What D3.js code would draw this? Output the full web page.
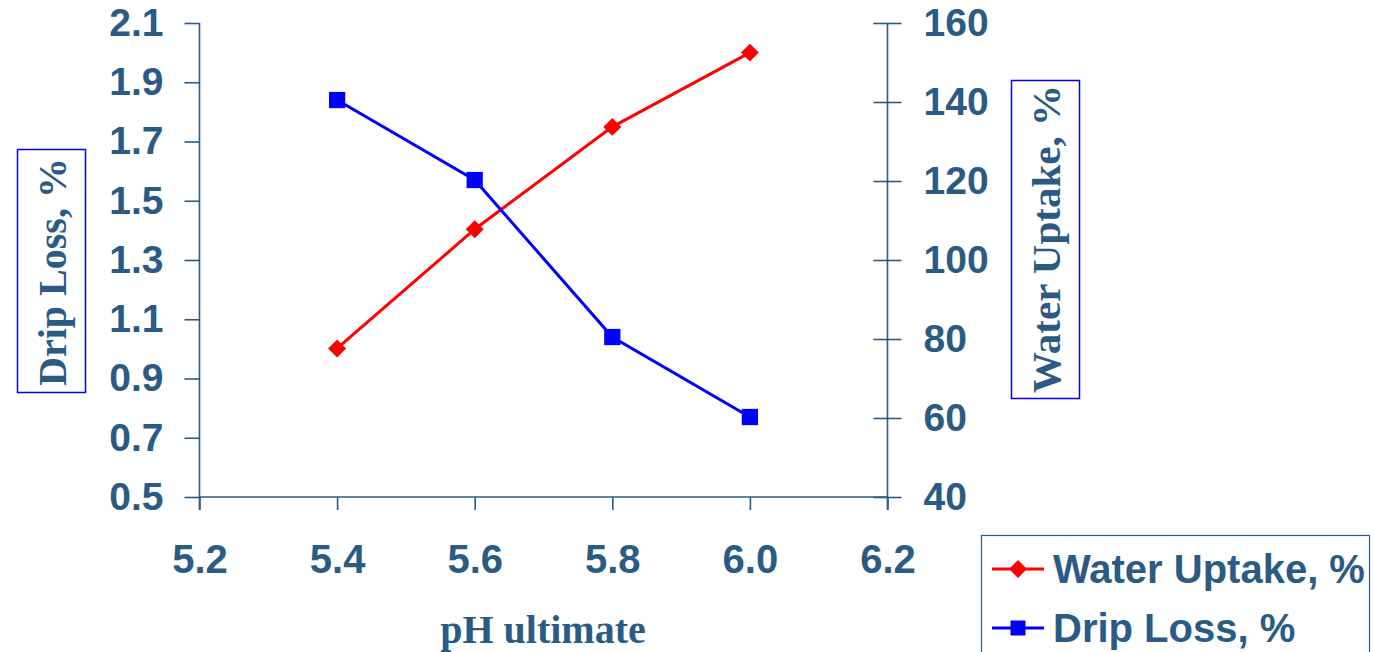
<!DOCTYPE html>
<html>
<head>
<meta charset="utf-8">
<script src="https://cdn.jsdelivr.net/npm/d3@7"></script>
<style>
  html, body { margin: 0; padding: 0; background: #ffffff; }
  svg { display: block; }
</style>
</head>
<body>
<svg id="chart" width="1374" height="652"></svg>
<script>
// ---- data ----
const phValues = [5.4, 5.6, 5.8, 6.0];
const waterUptake = [77.6, 107.8, 133.7, 152.5];   // right axis, %
const dripLoss = [1.84, 1.57, 1.04, 0.77];          // left axis, %
const xTicks = [5.2, 5.4, 5.6, 5.8, 6.0, 6.2];
const leftTicks = [0.5, 0.7, 0.9, 1.1, 1.3, 1.5, 1.7, 1.9, 2.1];
const rightTicks = [40, 60, 80, 100, 120, 140, 160];
const seriesNames = ["Water Uptake, %", "Drip Loss, %"];
const xTitle = "pH ultimate";
const leftTitle = "Drip Loss,  %";
const rightTitle = "Water Uptake, %";

// ---- styling ----
const axisColor = "#2b5b84";
const red = "#ff0000";
const blue = "#0000ff";
const sansFont = "'Liberation Sans', Arial, sans-serif";
const serifFont = "'Liberation Serif', 'Times New Roman', serif";

const svg = d3.select("#chart");

const x = d3.scaleLinear().domain([5.2, 6.2]).range([199.5, 887.5]);
const yL = d3.scaleLinear().domain([0.5, 2.1]).range([497, 23]);
const yR = d3.scaleLinear().domain([40, 160]).range([497, 23]);

// ---- axes ----
const gLeft = svg.append("g").attr("transform", `translate(${x(5.2)},0)`)
  .call(d3.axisLeft(yL).tickValues(leftTicks).tickFormat(d3.format(".1f"))
    .tickSize(15).tickSizeOuter(0).tickPadding(21));
const gRight = svg.append("g").attr("transform", `translate(${x(6.2)},0)`)
  .call(d3.axisRight(yR).tickValues(rightTicks).tickFormat(d3.format("d"))
    .tickSize(14).tickSizeOuter(0).tickPadding(22));
gRight.selectAll(".tick line").attr("x1", -14);
const gBottom = svg.append("g").attr("transform", `translate(0,${yL(0.5)})`)
  .call(d3.axisBottom(x).tickValues(xTicks).tickFormat(d3.format(".1f"))
    .tickSize(13).tickSizeOuter(0).tickPadding(35));

[gLeft, gRight, gBottom].forEach(g => {
  g.select(".domain").remove();
  g.selectAll(".tick line").attr("stroke", axisColor).attr("stroke-width", 1.6);
  g.selectAll(".tick text").attr("fill", axisColor)
    .attr("font-family", sansFont).attr("font-weight", "bold").attr("font-size", 39);
});
gBottom.selectAll(".tick text").attr("font-size", 40);

// axis lines
svg.append("line").attr("x1", x(5.2)).attr("x2", x(5.2)).attr("y1", yL(2.1)).attr("y2", yL(0.5) + 13)
  .attr("stroke", axisColor).attr("stroke-width", 1.6);
svg.append("line").attr("x1", x(6.2)).attr("x2", x(6.2)).attr("y1", yR(160)).attr("y2", yR(40) + 13)
  .attr("stroke", axisColor).attr("stroke-width", 1.6);
svg.append("line").attr("x1", x(5.2)).attr("x2", x(6.2)).attr("y1", yL(0.5)).attr("y2", yL(0.5))
  .attr("stroke", axisColor).attr("stroke-width", 1.6);

// ---- axis titles ----
svg.append("text").attr("x", 543).attr("y", 643).attr("text-anchor", "middle")
  .attr("font-family", serifFont).attr("font-weight", "bold").attr("font-size", 40)
  .attr("fill", axisColor).text(xTitle);

// left title box
svg.append("rect").attr("x", 17.5).attr("y", 149.5).attr("width", 68).attr("height", 243)
  .attr("fill", "none").attr("stroke", blue).attr("stroke-width", 1.5);
svg.append("text").attr("transform", "translate(52,272) rotate(-90)")
  .attr("text-anchor", "middle").attr("dominant-baseline", "central")
  .attr("font-family", serifFont).attr("font-weight", "bold").attr("font-size", 40)
  .attr("fill", axisColor).text(leftTitle);

// right title box
svg.append("rect").attr("x", 1011.5).attr("y", 80.5).attr("width", 68).attr("height", 318)
  .attr("fill", "none").attr("stroke", blue).attr("stroke-width", 1.5);
svg.append("text").attr("transform", "translate(1046,239) rotate(-90)")
  .attr("text-anchor", "middle").attr("dominant-baseline", "central")
  .attr("font-family", serifFont).attr("font-weight", "bold").attr("font-size", 41)
  .attr("fill", axisColor).text(rightTitle);

// ---- series ----
const waterData = phValues.map((p, i) => ({ x: p, y: waterUptake[i] }));
const dripData = phValues.map((p, i) => ({ x: p, y: dripLoss[i] }));

svg.append("path").datum(waterData)
  .attr("d", d3.line().x(d => x(d.x)).y(d => yR(d.y)))
  .attr("fill", "none").attr("stroke", red).attr("stroke-width", 3);
svg.append("path").datum(dripData)
  .attr("d", d3.line().x(d => x(d.x)).y(d => yL(d.y)))
  .attr("fill", "none").attr("stroke", blue).attr("stroke-width", 3);

const diamondPath = d3.symbol().type(d3.symbolSquare).size(160)();
const squarePath = d3.symbol().type(d3.symbolSquare).size(264)();

svg.selectAll(".wmark").data(waterData).enter().append("path")
  .attr("transform", d => `translate(${x(d.x)},${yR(d.y)}) rotate(45)`)
  .attr("d", diamondPath).attr("fill", red);
svg.selectAll(".dmark").data(dripData).enter().append("path")
  .attr("transform", d => `translate(${x(d.x)},${yL(d.y)})`)
  .attr("d", squarePath).attr("fill", blue);

// ---- legend ----
svg.append("rect").attr("x", 981.5).attr("y", 535.5).attr("width", 388).attr("height", 140)
  .attr("fill", "none").attr("stroke", axisColor).attr("stroke-width", 1.2);
const legendRows = [
  { name: seriesNames[0], color: red, y: 569, mark: "diamond" },
  { name: seriesNames[1], color: blue, y: 628, mark: "square" }
];
legendRows.forEach(r => {
  svg.append("line").attr("x1", 992).attr("x2", 1044).attr("y1", r.y).attr("y2", r.y)
    .attr("stroke", r.color).attr("stroke-width", 3);
  if (r.mark === "diamond") {
    svg.append("path").attr("transform", `translate(1018,${r.y}) rotate(45)`)
      .attr("d", diamondPath).attr("fill", r.color);
  } else {
    svg.append("path").attr("transform", `translate(1018,${r.y})`)
      .attr("d", d3.symbol().type(d3.symbolSquare).size(225)()).attr("fill", r.color);
  }
  svg.append("text").attr("x", 1053).attr("y", r.y).attr("dominant-baseline", "central")
    .attr("font-family", sansFont).attr("font-weight", "bold").attr("font-size", 40)
    .attr("fill", axisColor).text(r.name);
});
</script>
</body>
</html>
